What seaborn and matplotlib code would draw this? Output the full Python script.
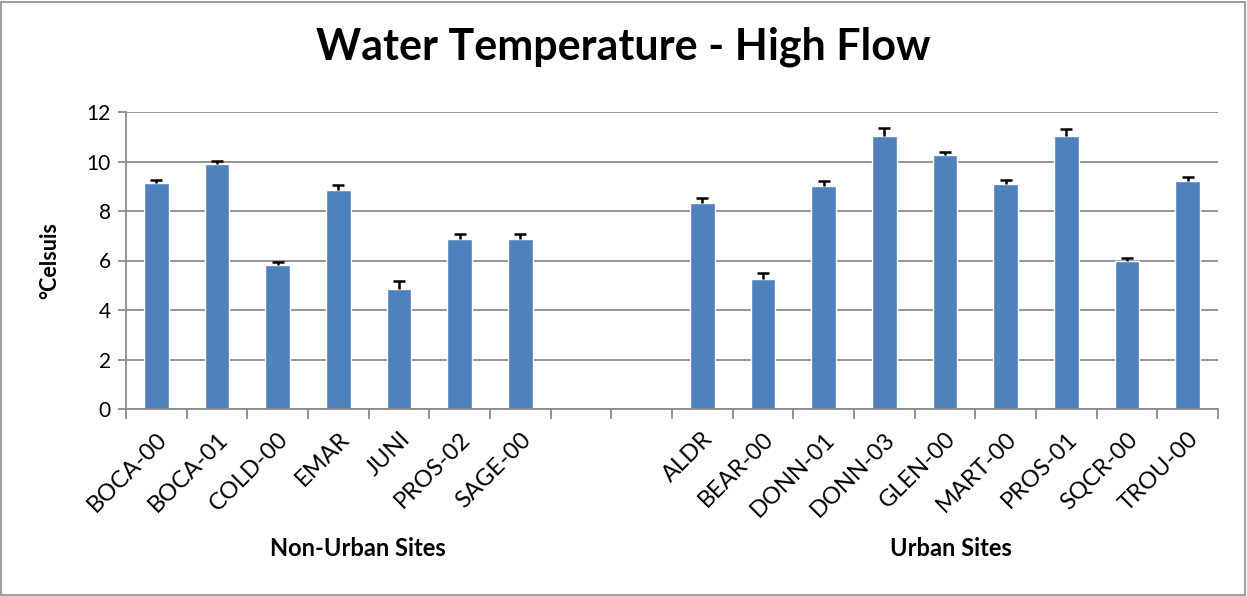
import numpy as np
import pandas as pd
import seaborn as sns
import matplotlib.pyplot as plt
from matplotlib.patches import Rectangle

# Mean water temperature (°C) at high flow, with upper error bars
non_urban_sites = ["BOCA-00", "BOCA-01", "COLD-00", "EMAR", "JUNI", "PROS-02", "SAGE-00"]
non_urban_temp = [9.14, 9.91, 5.81, 8.85, 4.84, 6.86, 6.86]
non_urban_err = [0.12, 0.12, 0.14, 0.20, 0.34, 0.21, 0.23]

urban_sites = ["ALDR", "BEAR-00", "DONN-01", "DONN-03", "GLEN-00", "MART-00", "PROS-01", "SQCR-00", "TROU-00"]
urban_temp = [8.31, 5.27, 9.01, 11.04, 10.27, 9.09, 11.04, 5.97, 9.22]
urban_err = [0.23, 0.22, 0.19, 0.30, 0.11, 0.18, 0.27, 0.14, 0.17]

gap = ["_gap1", "_gap2"]  # two empty slots between the groups
order = non_urban_sites + gap + urban_sites

df = pd.DataFrame({
    "site": non_urban_sites + urban_sites,
    "temp": non_urban_temp + urban_temp,
    "err": non_urban_err + urban_err,
})

sns.set_theme(style="white")
plt.rcParams["font.family"] = ["Lato", "DejaVu Sans"]
plt.rcParams["text.color"] = "black"
plt.rcParams["xtick.color"] = "black"
plt.rcParams["ytick.color"] = "black"

fig = plt.figure(figsize=(12.47, 5.96), dpi=100)
ax = fig.add_axes([126 / 1247, 1 - 409 / 596, (1218 - 126) / 1247, (409 - 112) / 596])

bar_color = "#4f81bd"
sns.barplot(data=df, x="site", y="temp", order=order, color=bar_color,
            saturation=1, width=0.41, errorbar=None, ax=ax, zorder=2)

# upper error bars only, like the Excel original
pos = {s: i for i, s in enumerate(order)}
xs = np.array([pos[s] for s in df["site"]])
tops = df["temp"] + df["err"]
ax.vlines(xs, df["temp"], tops, color="black", linewidth=1.8, zorder=3)
ax.hlines(tops, xs - 0.1, xs + 0.1, color="black", linewidth=1.8, zorder=3)

ax.set_ylim(0, 12)
ax.set_yticks(range(0, 13, 2))
ax.set_xlim(-0.5, len(order) - 0.5)
ax.yaxis.grid(True, color="#8c8c8c", linewidth=1.3, zorder=0)
ax.set_axisbelow(True)

for side in ["top", "right"]:
    ax.spines[side].set_visible(False)
for side in ["left", "bottom"]:
    ax.spines[side].set_color("#8c8c8c")
    ax.spines[side].set_linewidth(1.3)

# tick marks between categories, labels at the category centers
ax.set_xticks(np.arange(len(order)))
ax.set_xticklabels(["" if s.startswith("_") else s for s in order],
                   rotation=45, ha="right", rotation_mode="anchor", fontsize=17)
ax.set_xticks(np.arange(-0.5, len(order)), minor=True)
ax.tick_params(axis="x", which="major", length=0, pad=14)
ax.tick_params(axis="x", which="minor", length=7, width=1.3, color="#8c8c8c", direction="out")
ax.tick_params(axis="y", length=6, width=1.3, color="#8c8c8c", direction="out",
               labelsize=15, labelcolor="black", pad=5)
ax.tick_params(axis="x", labelcolor="black")
ax.tick_params(axis="both", which="both", bottom=True, left=True)

ax.set_xlabel("")
ax.set_ylabel("°Celsuis", fontsize=15.5, fontweight="bold", color="black")
ax.yaxis.set_label_coords(-66 / 1092, 0.5)

fig.suptitle("Water Temperature - High Flow", fontsize=31, fontweight="bold",
             color="black", x=0.5, y=0.955)

tr = ax.get_xaxis_transform()
ax.text(3.32, -0.47, "Non-Urban Sites", transform=tr, ha="center", va="center",
        fontsize=17, fontweight="bold")
ax.text(13.1, -0.47, "Urban Sites", transform=tr, ha="center", va="center",
        fontsize=17, fontweight="bold")

# chart border
fig.patches.append(Rectangle((0.001, 0.002), 0.997, 0.995, transform=fig.transFigure,
                             fill=False, edgecolor="#8c8c8c", linewidth=1.2))

fig.savefig("out.png", dpi=100)
